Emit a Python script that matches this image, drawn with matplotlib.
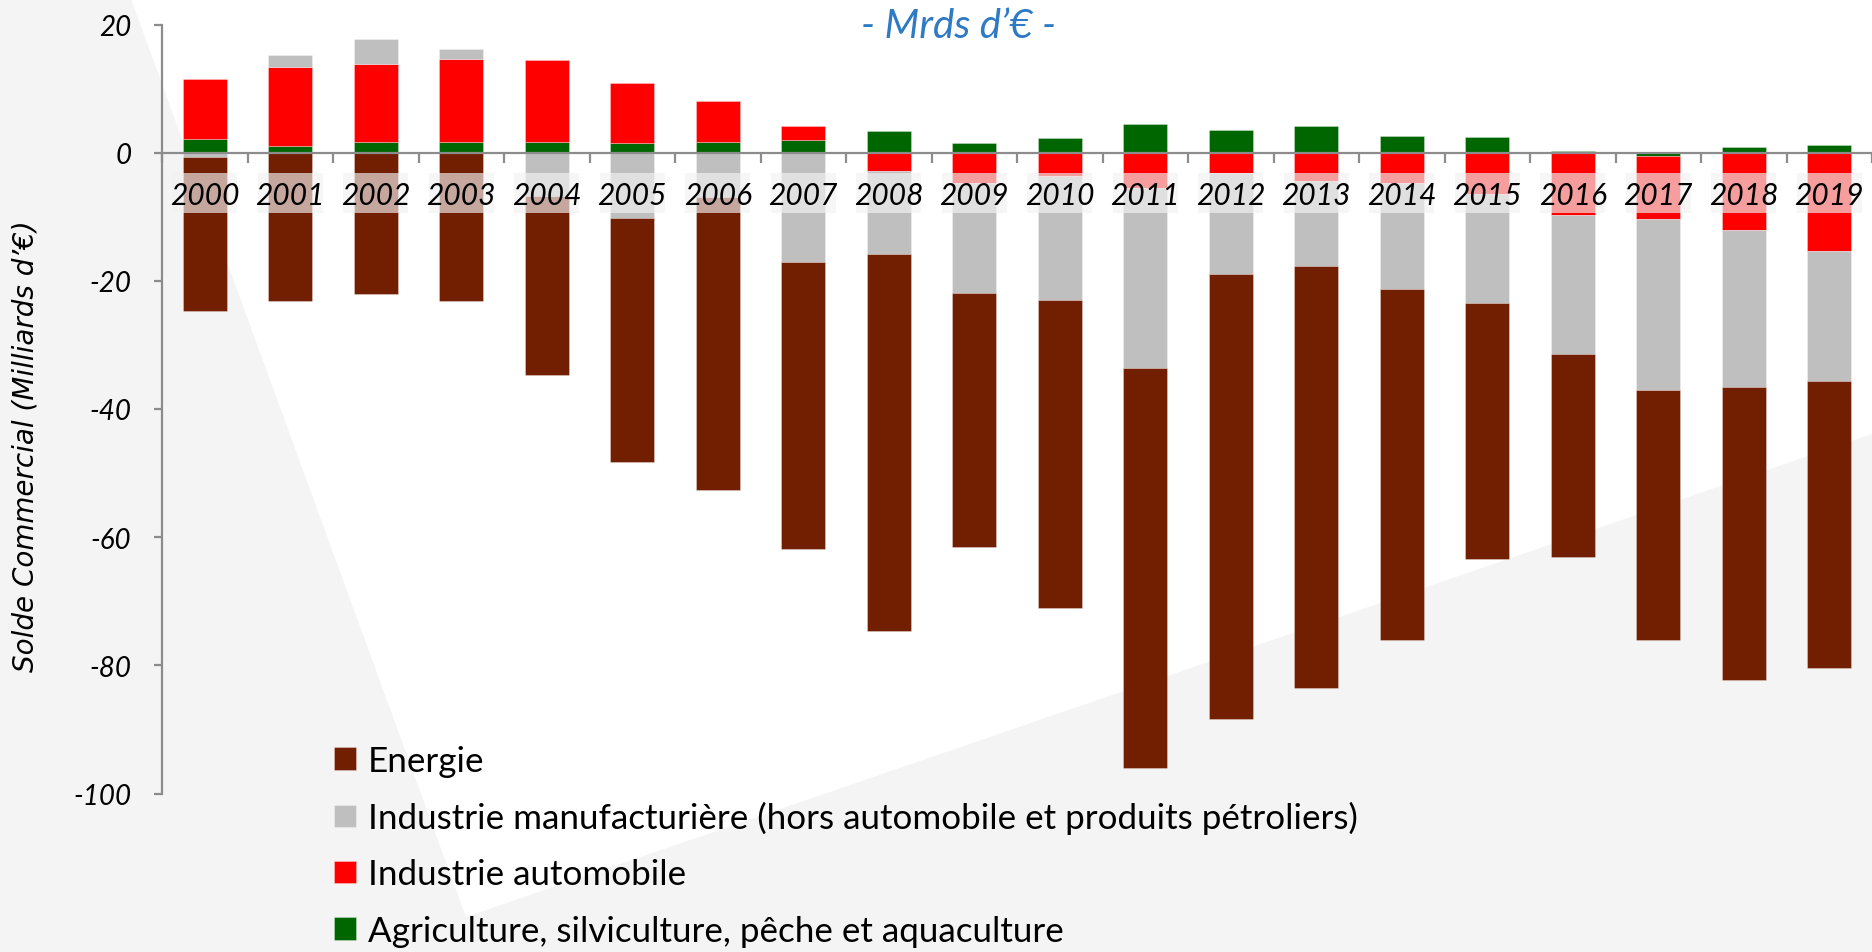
import matplotlib
matplotlib.use("Agg")
import matplotlib.pyplot as plt
from matplotlib.patches import Polygon
import numpy as np

# ---------------- data ----------------
years = [str(y) for y in range(2000, 2020)]

energie = [-24.0, -23.2, -22.1, -23.2, -28.05, -38.1, -45.7, -44.8, -58.9, -39.7,
           -48.0, -62.4, -69.3, -65.8, -54.7, -39.9, -31.7, -39.0, -45.7, -44.7]
manuf = [-0.7, 1.9, 3.9, 1.56, -6.7, -10.2, -6.9, -17.0, -13.0, -17.1,
         -19.4, -28.2, -15.8, -13.3, -16.6, -17.0, -21.7, -26.7, -24.5, -20.4]
auto = [9.35, 12.2, 12.1, 13.0, 12.9, 9.3, 6.34, 2.1, -2.8, -4.8,
        -3.6, -5.45, -3.2, -4.4, -4.7, -6.5, -9.7, -9.8, -12.1, -15.3]
agri = [2.08, 1.09, 1.66, 1.66, 1.6, 1.5, 1.66, 2.03, 3.32, 1.5,
        2.23, 4.52, 3.58, 4.16, 2.65, 2.5, 0.2, -0.5, 0.83, 1.2]

labels = {
    "energie": "Energie",
    "manuf": "Industrie manufacturière (hors automobile et produits pétroliers)",
    "auto": "Industrie automobile",
    "agri": "Agriculture, silviculture, pêche et aquaculture",
}
colors = {"energie": "#721E00", "manuf": "#BFBFBF", "auto": "#FF0000", "agri": "#006600"}

yticks = [20, 0, -20, -40, -60, -80, -100]
ytick_labels = ["20", "0", "-20", "-40", "-60", "-80", "-100"]

title = "- Mrds d\u2019€ -"
ylabel = "Solde Commercial (Milliards d\u2019€)"

# ---------------- figure ----------------
W, H = 1872, 953
fig = plt.figure(figsize=(W / 100, H / 100), dpi=100, facecolor="#F4F4F4")

# light background decoration (behind everything)
bgax = fig.add_axes([0, 0, 1, 1], zorder=-10)
bgax.set_axis_off()
bgax.set_xlim(0, 1)
bgax.set_ylim(0, 1)
bgax.add_patch(Polygon([(131 / W, 1), (1, 1), (1, 1 - 435 / H), (466 / W, 1 - 918 / H)],
                       closed=True, fc="white", ec="none"))

ax = fig.add_axes([162 / W, 1 - 794.5 / H, 1 - 162 / W, (794.5 - 25.5) / H])
ax.patch.set_alpha(0)

x = np.arange(len(years))
pos = np.zeros(len(years))
neg = np.zeros(len(years))
handles = {}
for key, vals in [("agri", agri), ("auto", auto), ("manuf", manuf), ("energie", energie)]:
    v = np.array(vals, dtype=float)
    bottom = np.where(v >= 0, pos, neg)
    bc = ax.bar(x, v, bottom=bottom, width=0.51, color=colors[key],
                edgecolor=(1, 1, 1, 0.35), linewidth=0.6, zorder=2, label=labels[key])
    handles[key] = bc
    pos = pos + np.where(v >= 0, v, 0)
    neg = neg + np.where(v < 0, v, 0)

# semi-transparent label backgrounds + year labels
ax.bar(x, -6.2, bottom=-3.2, width=0.76, color="#F2F2F2", alpha=0.65, linewidth=0, zorder=3)
for i, yr in enumerate(years):
    ax.text(i, -6.6, yr, ha="center", va="center", fontsize=21.5, style="italic",
            family=["Lato", "DejaVu Sans"], color="black", zorder=4)

ax.set_xlim(-0.5, len(years) - 0.5)
ax.set_ylim(-100, 20)

axis_col = "#8C8C8C"
for s in ["top", "right"]:
    ax.spines[s].set_visible(False)
ax.spines["bottom"].set_position(("data", 0))
ax.spines["bottom"].set_color(axis_col)
ax.spines["bottom"].set_linewidth(1.6)
ax.spines["bottom"].set_zorder(5)
ax.spines["left"].set_color(axis_col)
ax.spines["left"].set_linewidth(1.6)

ax.set_xticks(np.arange(-0.5, len(years), 1.0))
ax.set_xticklabels([])
ax.tick_params(axis="x", direction="out", length=7.5, width=1.6, color=axis_col)

ax.set_yticks(yticks)
ax.set_yticklabels(ytick_labels)
ax.tick_params(axis="y", direction="out", length=6, width=1.6, color=axis_col, pad=16)
for t in ax.get_yticklabels():
    t.set_fontsize(20)
    t.set_style("italic")
    t.set_family(["Lato", "DejaVu Sans"])

fig.text(26 / W, 1 - 446 / H, ylabel, rotation=90, ha="center", va="center",
         fontsize=20, style="italic", family=["DejaVu Sans"], color="black")

fig.text(959 / W, 1 - 26 / H, title, ha="center", va="center", fontsize=29,
         style="italic", family=["Lato", "DejaVu Sans"], color="#2E7AC4")

leg = fig.legend(handles=[handles["energie"], handles["manuf"], handles["auto"], handles["agri"]],
                 loc="upper left", bbox_to_anchor=(334 / W, 1 - 746 / H), frameon=False,
                 prop={"family": ["Lato", "DejaVu Sans"], "size": 25.2},
                 handlelength=0.62, handleheight=0.62, handletextpad=0.35,
                 labelspacing=0.69, borderaxespad=0, borderpad=0)

fig.savefig("out.png", dpi=100, facecolor=fig.get_facecolor())
